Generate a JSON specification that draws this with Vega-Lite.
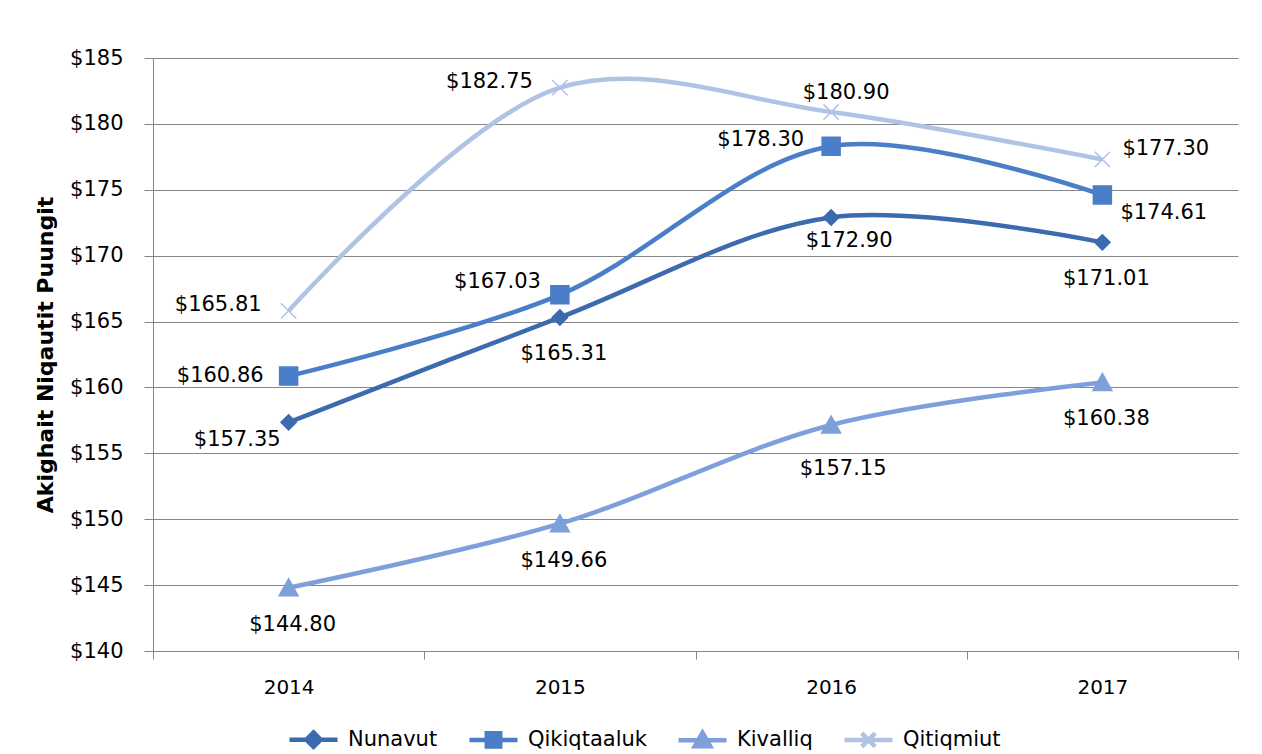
{
  "$schema": "https://vega.github.io/schema/vega-lite/v6.json",
  "width": 1085,
  "height": 593,
  "autosize": "none",
  "padding": {"left": 153, "top": 58, "right": 24, "bottom": 103},
  "background": "white",
  "config": {
    "view": {"stroke": null},
    "font": "DejaVu Sans",
    "axis": {"labelFont": "DejaVu Sans", "titleFont": "DejaVu Sans", "labelColor": "#000000", "titleColor": "#000000"},
    "legend": {"labelFont": "DejaVu Sans"}
  },
  "data": {
    "values": [
      {"series": "Nunavut", "year": "2014", "value": 157.35},
      {"series": "Nunavut", "year": "2015", "value": 165.31},
      {"series": "Nunavut", "year": "2016", "value": 172.90},
      {"series": "Nunavut", "year": "2017", "value": 171.01},
      {"series": "Qikiqtaaluk", "year": "2014", "value": 160.86},
      {"series": "Qikiqtaaluk", "year": "2015", "value": 167.03},
      {"series": "Qikiqtaaluk", "year": "2016", "value": 178.30},
      {"series": "Qikiqtaaluk", "year": "2017", "value": 174.61},
      {"series": "Kivalliq", "year": "2014", "value": 144.80},
      {"series": "Kivalliq", "year": "2015", "value": 149.66},
      {"series": "Kivalliq", "year": "2016", "value": 157.15},
      {"series": "Kivalliq", "year": "2017", "value": 160.38},
      {"series": "Qitiqmiut", "year": "2014", "value": 165.81},
      {"series": "Qitiqmiut", "year": "2015", "value": 182.75},
      {"series": "Qitiqmiut", "year": "2016", "value": 180.90},
      {"series": "Qitiqmiut", "year": "2017", "value": 177.30}
    ]
  },
  "encoding": {
    "x": {
      "field": "year",
      "type": "ordinal",
      "bandPosition": 0.5,
      "scale": {"type": "band", "paddingInner": 0, "paddingOuter": 0},
      "axis": {
        "title": null,
        "labelAngle": 0,
        "labelFontSize": 20,
        "labelPadding": 18,
        "tickBand": "extent",
        "tickSize": 8,
        "tickColor": "#868686",
        "domainColor": "#868686",
        "grid": false
      }
    },
    "y": {
      "field": "value",
      "type": "quantitative",
      "scale": {"domain": [140, 185], "nice": false, "zero": false},
      "axis": {
        "title": "Akighait Niqautit Puungit",
        "titleFontSize": 22,
        "titleFontWeight": "bold",
        "titlePadding": 12,
        "values": [140, 145, 150, 155, 160, 165, 170, 175, 180, 185],
        "labelExpr": "'$' + datum.value",
        "labelFontSize": 21,
        "labelPadding": 21,
        "tickSize": 9,
        "tickColor": "#868686",
        "domainColor": "#868686",
        "grid": true,
        "gridColor": "#868686",
        "gridOpacity": 1
      }
    }
  },
  "layer": [
    {
      "mark": {"type": "line", "interpolate": "catmull-rom", "strokeWidth": 4.5},
      "encoding": {
        "color": {
          "field": "series",
          "type": "nominal",
          "scale": {"domain": ["Nunavut", "Qikiqtaaluk", "Kivalliq", "Qitiqmiut"], "range": ["#3C6AAE", "#4A7EC8", "#7DA0DA", "#B0C3E5"]},
          "legend": null
        }
      }
    },
    {
      "mark": {"type": "point", "filled": true, "size": 324, "opacity": 1, "strokeWidth": 1.5},
      "encoding": {
        "fill": {
          "field": "series",
          "type": "nominal",
          "scale": {"domain": ["Nunavut", "Qikiqtaaluk", "Kivalliq", "Qitiqmiut"], "range": ["#3C6AAE", "#4A7EC8", "#7DA0DA", "#B0C3E5"]},
          "legend": null
        },
        "stroke": {
          "field": "series",
          "type": "nominal",
          "scale": {"domain": ["Nunavut", "Qikiqtaaluk", "Kivalliq", "Qitiqmiut"], "range": ["#3C6AAE", "#4A7EC8", "#7DA0DA", "#B0C3E5"]},
          "legend": null
        },
        "shape": {
          "field": "series",
          "type": "nominal",
          "scale": {
            "domain": ["Nunavut", "Qikiqtaaluk", "Kivalliq", "Qitiqmiut"],
            "range": [
              "M0,-0.85L0.85,0L0,0.85L-0.85,0Z",
              "M-1,-1H1V1H-1Z",
              "M0,-1L1.05,0.9H-1.05Z",
              "M-0.85,-0.85L0.85,0.85M-0.85,0.85L0.85,-0.85"
            ]
          },
          "legend": null
        }
      }
    },
    {
      "transform": [{"filter": "false"}],
      "mark": {"type": "point", "filled": true, "opacity": 1, "strokeWidth": 4.5},
      "encoding": {
        "fill": {
          "field": "series",
          "type": "nominal",
          "scale": {"domain": ["Nunavut", "Qikiqtaaluk", "Kivalliq", "Qitiqmiut"], "range": ["#3C6AAE", "#4A7EC8", "#7DA0DA", "#B0C3E5"]},
          "legend": {
            "title": null,
            "orient": "none",
            "legendX": 134,
            "legendY": 655,
            "direction": "horizontal",
            "symbolSize": 2304,
            "symbolStrokeWidth": 4.5,
            "symbolOpacity": 1,
            "labelFontSize": 21,
            "labelColor": "#000000",
            "labelOffset": 8,
            "columnPadding": 22
          }
        },
        "stroke": {
          "field": "series",
          "type": "nominal",
          "scale": {"domain": ["Nunavut", "Qikiqtaaluk", "Kivalliq", "Qitiqmiut"], "range": ["#3C6AAE", "#4A7EC8", "#7DA0DA", "#B0C3E5"]}
        },
        "shape": {
          "field": "series",
          "type": "nominal",
          "scale": {
            "domain": ["Nunavut", "Qikiqtaaluk", "Kivalliq", "Qitiqmiut"],
            "range": [
              "M-1,0H1M0,-0.3L0.3,0L0,0.3L-0.3,0Z",
              "M-1,0H1M-0.28,-0.28H0.28V0.28H-0.28Z",
              "M-1,0H1M0,-0.32L0.32,0.24H-0.32Z",
              "M-1,0H1M-0.28,-0.28L0.28,0.28M-0.28,0.28L0.28,-0.28"
            ]
          }
        }
      }
    },
    {
      "transform": [{"filter": "(datum.series == 'Qitiqmiut' && (datum.year == '2014' || datum.year == '2015')) || (datum.series == 'Qikiqtaaluk' && datum.year == '2016')"}],
      "mark": {"type": "text", "fontSize": 21, "align": "right", "baseline": "middle", "dx": -27, "dy": -6, "color": "#000000"},
      "encoding": {"text": {"field": "value", "type": "quantitative", "format": "$.2f"}}
    },
    {
      "transform": [{"filter": "datum.series == 'Qikiqtaaluk' && datum.year == '2014'"}],
      "mark": {"type": "text", "fontSize": 21, "align": "right", "baseline": "middle", "dx": -25, "dy": 0, "color": "#000000"},
      "encoding": {"text": {"field": "value", "type": "quantitative", "format": "$.2f"}}
    },
    {
      "transform": [{"filter": "datum.series == 'Nunavut' && datum.year == '2014'"}],
      "mark": {"type": "text", "fontSize": 21, "align": "right", "baseline": "middle", "dx": -8, "dy": 18, "color": "#000000"},
      "encoding": {"text": {"field": "value", "type": "quantitative", "format": "$.2f"}}
    },
    {
      "transform": [{"filter": "datum.series == 'Qikiqtaaluk' && datum.year == '2015'"}],
      "mark": {"type": "text", "fontSize": 21, "align": "right", "baseline": "middle", "dx": -19, "dy": -13, "color": "#000000"},
      "encoding": {"text": {"field": "value", "type": "quantitative", "format": "$.2f"}}
    },
    {
      "transform": [{"filter": "(datum.series == 'Kivalliq' && datum.year != '2016') || (datum.series == 'Nunavut' && (datum.year == '2015' || datum.year == '2017'))"}],
      "mark": {"type": "text", "fontSize": 21, "align": "center", "baseline": "middle", "dx": 4, "dy": 37, "color": "#000000"},
      "encoding": {"text": {"field": "value", "type": "quantitative", "format": "$.2f"}}
    },
    {
      "transform": [{"filter": "datum.series == 'Nunavut' && datum.year == '2016'"}],
      "mark": {"type": "text", "fontSize": 21, "align": "center", "baseline": "middle", "dx": 18, "dy": 24, "color": "#000000"},
      "encoding": {"text": {"field": "value", "type": "quantitative", "format": "$.2f"}}
    },
    {
      "transform": [{"filter": "datum.series == 'Kivalliq' && datum.year == '2016'"}],
      "mark": {"type": "text", "fontSize": 21, "align": "center", "baseline": "middle", "dx": 12, "dy": 44, "color": "#000000"},
      "encoding": {"text": {"field": "value", "type": "quantitative", "format": "$.2f"}}
    },
    {
      "transform": [{"filter": "datum.series == 'Qitiqmiut' && datum.year == '2016'"}],
      "mark": {"type": "text", "fontSize": 21, "align": "center", "baseline": "middle", "dx": 15, "dy": -19, "color": "#000000"},
      "encoding": {"text": {"field": "value", "type": "quantitative", "format": "$.2f"}}
    },
    {
      "transform": [{"filter": "datum.series == 'Qikiqtaaluk' && datum.year == '2017'"}],
      "mark": {"type": "text", "fontSize": 21, "align": "left", "baseline": "middle", "dx": 18, "dy": 18, "color": "#000000"},
      "encoding": {"text": {"field": "value", "type": "quantitative", "format": "$.2f"}}
    },
    {
      "transform": [{"filter": "datum.series == 'Qitiqmiut' && datum.year == '2017'"}],
      "mark": {"type": "text", "fontSize": 21, "align": "left", "baseline": "middle", "dx": 20, "dy": -10, "color": "#000000"},
      "encoding": {"text": {"field": "value", "type": "quantitative", "format": "$.2f"}}
    }
  ],
  "resolve": {"scale": {"shape": "independent", "fill": "independent", "stroke": "independent"}}
}
